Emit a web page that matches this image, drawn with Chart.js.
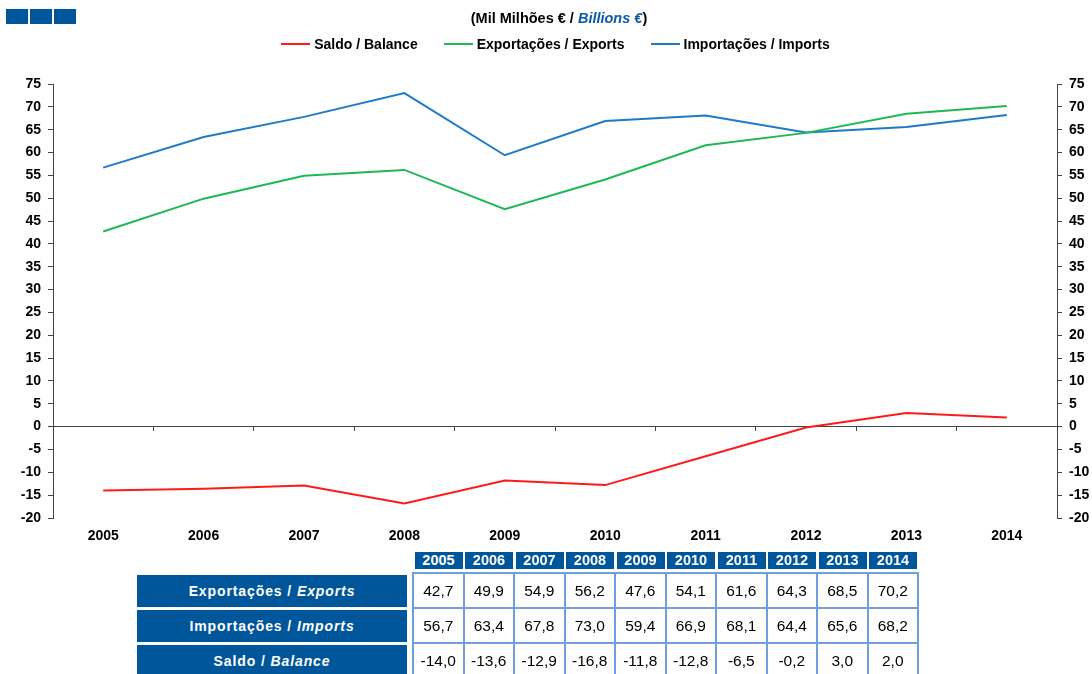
<!DOCTYPE html>
<html>
<head>
<meta charset="utf-8">
<script src="https://cdn.jsdelivr.net/npm/chart.js@4.4.1/dist/chart.umd.min.js"></script>
<style>
    html, body { margin: 0; padding: 0; background: #fff; }
    body { width: 1092px; height: 674px; position: relative; overflow: hidden; font-family: "Liberation Sans", Arial, sans-serif; }
    #chart { position: absolute; left: 0; top: 0; }
    .sq { position: absolute; top: 9px; width: 22px; height: 15px; background: #00569b; }
    #sub { position: absolute; top: 10px; left: 0; width: 1118px; text-align: center; font-size: 14.5px; font-weight: bold; color: #000; }
    #sub i { color: #0b5aa8; }
    #legend { position: absolute; top: 36px; left: 0; width: 1111px; text-align: center; font-size: 14px; font-weight: bold; }
    #legend span.item { display: inline-block; margin: 0 13px; }
    #legend span.box { display: inline-block; width: 29px; height: 2px; vertical-align: middle; margin-right: 4px; position: relative; top: -1px; }
    .hd { position: absolute; top: 552px; height: 17px; line-height: 17px; width: 48px; background: #00569b; color: #fff; font-weight: bold; font-size: 14.5px; text-align: center; }
    .lab { position: absolute; left: 137px; width: 270px; height: 32px; line-height: 32px; background: #00569b; color: #fff; font-weight: bold; font-size: 14px; text-align: center; letter-spacing: 0.9px; }
    .cell { position: absolute; width: 48.5px; height: 33px; line-height: 33px; border: 2px solid #6f9fdc; margin: -1px 0 0 -1px; text-align: center; font-size: 15.5px; color: #000; box-sizing: content-box; }
</style>
</head>
<body>
<canvas id="chart" width="1092" height="674"></canvas>
<div class="sq" style="left:6px"></div>
<div class="sq" style="left:30px"></div>
<div class="sq" style="left:54px"></div>
<div id="sub">(Mil Milhões € / <i>Billions €</i>)</div>
<div id="legend"></div>
<div id="table"></div>
<script>
    var years = ['2005', '2006', '2007', '2008', '2009', '2010', '2011', '2012', '2013', '2014'];
    var exportsData = [42.7, 49.9, 54.9, 56.2, 47.6, 54.1, 61.6, 64.3, 68.5, 70.2];
    var importsData = [56.7, 63.4, 67.8, 73.0, 59.4, 66.9, 68.1, 64.4, 65.6, 68.2];
    var balanceData = [-14.0, -13.6, -12.9, -16.8, -11.8, -12.8, -6.5, -0.2, 3.0, 2.0];
    var seriesNames = ['Saldo / Balance', 'Exportações / Exports', 'Importações / Imports'];
    var seriesColors = ['#ff1a1a', '#1fb856', '#1f7ac8'];
    var rowLabels = [['Exportações / ', 'Exports'], ['Importações / ', 'Imports'], ['Saldo / ', 'Balance']];

    var font = { family: '"Liberation Sans", Arial, sans-serif', size: 14, weight: 'bold' };
    var axisColor = '#444';

    // legend
    var legend = document.getElementById('legend');
    seriesNames.forEach(function (name, i) {
        var s = document.createElement('span');
        s.className = 'item';
        s.innerHTML = '<span class="box" style="background:' + seriesColors[i] + '"></span>' + name;
        legend.appendChild(s);
    });

    // table
    var table = document.getElementById('table');
    var colLeft = 413, colW = 50.5, rowTop = [573, 608, 643], labTop = [575, 610, 645];
    var rows = [exportsData, importsData, balanceData];
    years.forEach(function (y, j) {
        var d = document.createElement('div');
        d.className = 'hd';
        d.style.left = (colLeft + 1.5 + j * colW) + 'px';
        d.textContent = y;
        table.appendChild(d);
    });
    rows.forEach(function (vals, r) {
        var l = document.createElement('div');
        l.className = 'lab';
        l.style.top = labTop[r] + 'px';
        l.innerHTML = rowLabels[r][0] + '<i>' + rowLabels[r][1] + '</i>';
        table.appendChild(l);
        vals.forEach(function (v, j) {
            var c = document.createElement('div');
            c.className = 'cell';
            c.style.left = (colLeft + j * colW) + 'px';
            c.style.top = rowTop[r] + 'px';
            c.textContent = v.toFixed(1).replace('.', ',');
            table.appendChild(c);
        });
    });

    function yAxis(pos, w) {
        return {
            position: pos,
            min: -20,
            max: 75,
            afterFit: function (s) { s.width = w; },
            border: { display: true, color: axisColor, width: 1 },
            grid: { drawOnChartArea: false, drawTicks: true, tickLength: 5, color: axisColor },
            ticks: { stepSize: 5, color: '#000', font: font, padding: 7 }
        };
    }

    new Chart(document.getElementById('chart'), {
        type: 'line',
        data: {
            labels: years,
            datasets: [
                { label: seriesNames[0], data: balanceData, borderColor: seriesColors[0] },
                { label: seriesNames[1], data: exportsData, borderColor: seriesColors[1] },
                { label: seriesNames[2], data: importsData, borderColor: seriesColors[2] }
            ].map(function (d) {
                d.borderWidth = 2;
                d.pointRadius = 0;
                d.tension = 0;
                d.fill = false;
                return d;
            })
        },
        options: {
            responsive: false,
            animation: false,
            layout: { padding: { top: 84, bottom: 126, left: 0, right: 0 } },
            plugins: { legend: { display: false }, tooltip: { enabled: false } },
            scales: {
                x: {
                    type: 'category',
                    position: { y: 0 },
                    offset: true,
                    border: { display: true, color: axisColor, width: 1 },
                    grid: { offset: true, drawOnChartArea: false, drawTicks: true, tickLength: 4, color: axisColor },
                    ticks: { display: false }
                },
                x2: {
                    type: 'category',
                    position: 'bottom',
                    labels: years,
                    offset: true,
                    afterFit: function (s) { s.height = 30; },
                    border: { display: false },
                    grid: { display: false, drawTicks: false },
                    ticks: { color: '#000', font: font, padding: 10, maxRotation: 0 }
                },
                y: yAxis('left', 53),
                y2: yAxis('right', 35)
            }
        }
    });
</script>
</body>
</html>
